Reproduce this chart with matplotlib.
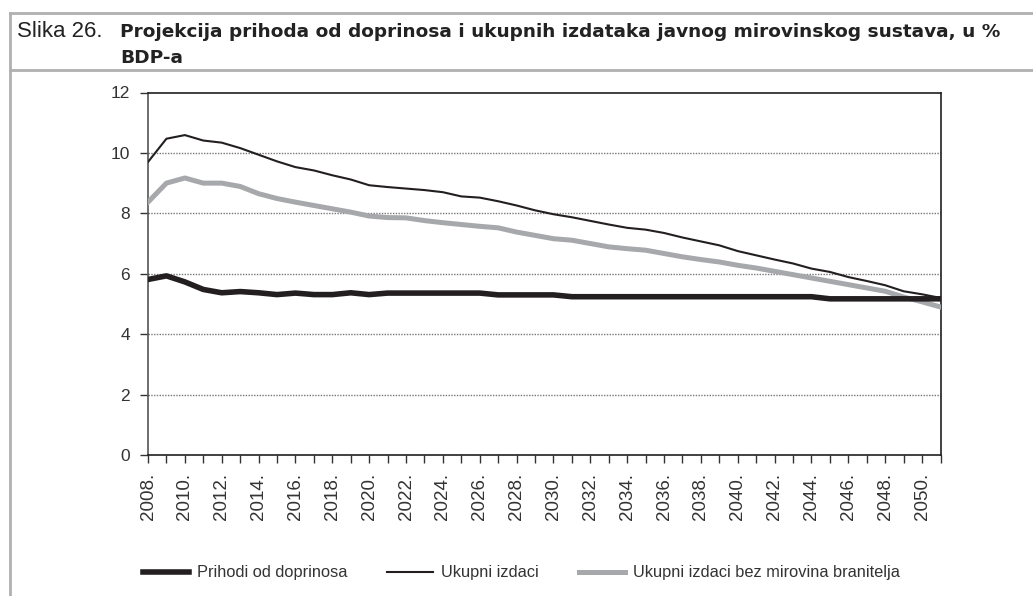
import numpy as np
import matplotlib.pyplot as plt
from matplotlib.lines import Line2D

plt.rcParams.update({
    "font.family": "Liberation Sans",
    "font.size": 12,
    "axes.linewidth": 1.2,
})

W, H = 1033, 596

years = np.arange(2008, 2052)
prihodi = [5.81, 5.93, 5.73, 5.48, 5.37, 5.41, 5.37, 5.31, 5.36, 5.31,
           5.31, 5.37, 5.31, 5.36, 5.36, 5.36, 5.36, 5.36, 5.36, 5.30,
           5.30, 5.30, 5.30, 5.24, 5.24, 5.24, 5.24, 5.24, 5.24, 5.24,
           5.24, 5.24, 5.24, 5.24, 5.24, 5.24, 5.24, 5.17, 5.17, 5.17,
           5.17, 5.17, 5.17, 5.17]
ukupni = [9.70, 10.47, 10.59, 10.41, 10.34, 10.16, 9.94, 9.72, 9.53, 9.42,
          9.26, 9.12, 8.93, 8.87, 8.82, 8.77, 8.70, 8.56, 8.52, 8.40,
          8.26, 8.10, 7.97, 7.87, 7.75, 7.63, 7.52, 7.46, 7.35, 7.20,
          7.07, 6.94, 6.75, 6.61, 6.47, 6.34, 6.17, 6.06, 5.89, 5.76,
          5.62, 5.42, 5.32, 5.20]
bez_branitelja = [8.37, 9.00, 9.17, 9.00, 9.00, 8.89, 8.65, 8.49, 8.37, 8.26,
                  8.15, 8.04, 7.91, 7.86, 7.85, 7.76, 7.69, 7.63, 7.57, 7.52,
                  7.38, 7.27, 7.16, 7.11, 7.00, 6.89, 6.83, 6.78, 6.67, 6.56,
                  6.47, 6.39, 6.28, 6.19, 6.08, 5.97, 5.86, 5.75, 5.64, 5.53,
                  5.42, 5.23, 5.07, 4.90]
labels = ["Prihodi od doprinosa", "Ukupni izdaci",
          "Ukupni izdaci bez mirovina branitelja"]

BLACK = "#231f20"
GREY = "#a7a8ab"
FRAME = "#b0b0b0"

fig = plt.figure(figsize=(W / 100, H / 100), dpi=100)
ax = fig.add_axes((148 / W, 1 - 455 / H, (940.5 - 148) / W, (455 - 92.5) / H))

l1, = ax.plot(years, prihodi, color=BLACK, lw=4, solid_joinstyle="round", zorder=4)
l2, = ax.plot(years, ukupni, color=BLACK, lw=1.5, zorder=4)
l3, = ax.plot(years, bez_branitelja, color=GREY, lw=3.6, solid_joinstyle="round", zorder=3)

ax.set_xlim(years[0], years[-1])
ax.set_ylim(0, 12)
ax.set_yticks(range(0, 13, 2))
ax.set_xticks(years)
ax.set_xticklabels([f"{y}." if y % 2 == 0 else "" for y in years], rotation=90)
ax.tick_params(axis="y", length=6, width=1, pad=7, colors="#333333", labelsize=12.5)
ax.tick_params(axis="x", length=6, width=1, pad=7, colors="#333333", labelsize=13.5)
for y in range(2, 12, 2):
    ax.axhline(y, color="#777777", lw=1, ls=(0, (1, 1)), zorder=1)
ax.spines["left"].set_color("#555555")
for s in ("top", "right", "bottom"):
    ax.spines[s].set_color(BLACK)

fig.legend([l1, l2, l3], labels, ncol=3, loc="center left",
           bbox_to_anchor=(128 / W, 1 - 573 / H), frameon=False,
           handlelength=2.8, handletextpad=0.5, columnspacing=2.45,
           fontsize=11.8, labelcolor="#333333")

# frame and title bar
for yy in (13, 70):
    fig.add_artist(Line2D([10 / W, 1], [1 - yy / H, 1 - yy / H], color=FRAME, lw=2))
fig.add_artist(Line2D([10 / W, 10 / W], [0, 1 - 13 / H], color=FRAME, lw=2))

fig.text(17 / W, 1 - 37 / H, "Slika 26.", fontsize=16, color="#222222", va="baseline")
fig.text(120 / W, 1 - 37 / H,
         "Projekcija prihoda od doprinosa i ukupnih izdataka javnog mirovinskog sustava, u %",
         fontsize=13.3, fontweight="bold", family="DejaVu Sans", color="#222222",
         va="baseline")
fig.text(120 / W, 1 - 63 / H, "BDP-a", fontsize=13.3, fontweight="bold",
         family="DejaVu Sans", color="#222222", va="baseline")

fig.savefig("out.png", dpi=100)
